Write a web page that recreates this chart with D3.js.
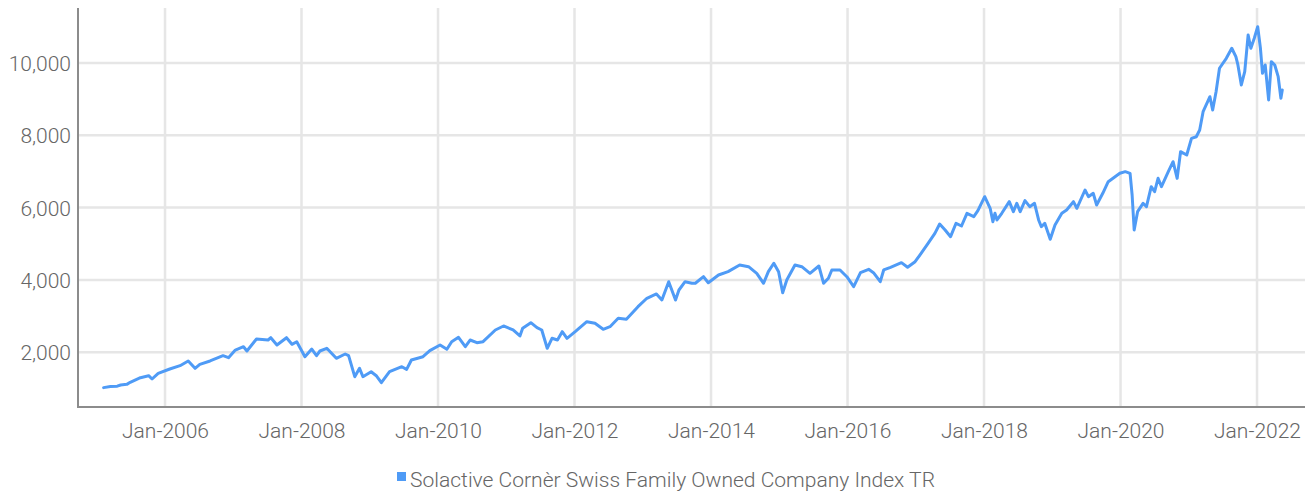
<!DOCTYPE html>
<html>
<head>
<meta charset="utf-8">
<script src="https://cdn.jsdelivr.net/npm/d3@7"></script>
<style>
  html, body { margin: 0; padding: 0; background: #ffffff; }
  svg { display: block; }
  text { font-family: "Roboto", "Noto Sans", sans-serif; font-weight: 300; fill: #666666; }
</style>
</head>
<body>
<svg id="chart" width="1306" height="493"></svg>
<script>
// ---- data (decimal year, index level) ----
const seriesName = "Solactive Cornèr Swiss Family Owned Company Index TR";
const years = [
  2005.10, 2005.20, 2005.30, 2005.35, 2005.44, 2005.49, 2005.64, 2005.76, 2005.81, 2005.90,
  2006.07, 2006.22, 2006.34, 2006.44, 2006.51, 2006.66, 2006.85, 2006.93,
  2007.03, 2007.15, 2007.20, 2007.34, 2007.51, 2007.55, 2007.64, 2007.78, 2007.86, 2007.93,
  2008.05, 2008.15, 2008.22, 2008.27, 2008.37, 2008.51, 2008.64, 2008.69, 2008.78, 2008.85, 2008.90,
  2009.02, 2009.10, 2009.17, 2009.29, 2009.47, 2009.54, 2009.61, 2009.78, 2009.88,
  2010.03, 2010.13, 2010.20, 2010.30, 2010.40, 2010.47, 2010.57, 2010.66, 2010.84, 2010.96,
  2011.10, 2011.20, 2011.24, 2011.36, 2011.45, 2011.52, 2011.60, 2011.67, 2011.75, 2011.82, 2011.89,
  2012.01, 2012.18, 2012.30, 2012.42, 2012.52, 2012.64, 2012.76, 2012.93,
  2013.06, 2013.20, 2013.28, 2013.38, 2013.48, 2013.53, 2013.62, 2013.72, 2013.77, 2013.89, 2013.96,
  2014.11, 2014.25, 2014.42, 2014.55, 2014.67, 2014.77, 2014.84, 2014.92, 2014.99,
  2015.05, 2015.11, 2015.23, 2015.33, 2015.45, 2015.58, 2015.65, 2015.72, 2015.77, 2015.89,
  2015.99, 2016.09, 2016.19, 2016.31, 2016.38, 2016.48, 2016.53, 2016.63, 2016.79, 2016.88, 2016.99,
  2017.06, 2017.18, 2017.28, 2017.35, 2017.43, 2017.51, 2017.59, 2017.67, 2017.75, 2017.85, 2017.91,
  2018.01, 2018.09, 2018.13, 2018.16, 2018.19, 2018.26, 2018.37, 2018.43, 2018.48, 2018.53, 2018.60, 2018.67, 2018.74, 2018.80, 2018.84, 2018.89, 2018.97,
  2019.04, 2019.14, 2019.21, 2019.31, 2019.36, 2019.48, 2019.53, 2019.60, 2019.65, 2019.74, 2019.82, 2019.92, 2019.99,
  2020.07, 2020.14, 2020.17, 2020.20, 2020.25, 2020.33, 2020.38, 2020.45, 2020.50, 2020.55, 2020.60, 2020.70, 2020.77, 2020.83, 2020.88, 2020.97,
  2021.04, 2021.11, 2021.16, 2021.21, 2021.31, 2021.35, 2021.40, 2021.45, 2021.55, 2021.63, 2021.69, 2021.72, 2021.77, 2021.82, 2021.87, 2021.91, 2021.96,
  2022.01, 2022.05, 2022.08, 2022.12, 2022.17, 2022.21, 2022.26, 2022.31, 2022.35, 2022.37
];
const values = [
  1020, 1050, 1060, 1093, 1110, 1167, 1295, 1350, 1259, 1416,
  1535, 1627, 1757, 1554, 1665, 1757, 1903, 1848,
  2060, 2152, 2033, 2365, 2337, 2401, 2199, 2401, 2218, 2290,
  1875, 2088, 1903, 2033, 2108, 1831, 1950, 1903, 1322, 1554, 1322,
  1460, 1341, 1157, 1460, 1599, 1526, 1784, 1875, 2042,
  2199, 2080, 2290, 2411, 2152, 2337, 2263, 2290, 2614, 2725,
  2614, 2448, 2661, 2816, 2678, 2614, 2108, 2384, 2337, 2567, 2384,
  2567, 2843, 2799, 2633, 2705, 2938, 2910, 3258,
  3491, 3610, 3444, 3950, 3444, 3720, 3950, 3906, 3906, 4088, 3922,
  4135, 4227, 4412, 4365, 4182, 3906, 4227, 4459, 4227,
  3645, 3997, 4412, 4365, 4182, 4384, 3906, 4044, 4274, 4274,
  4088, 3811, 4200, 4293, 4200, 3950, 4274, 4348, 4476, 4348, 4503,
  4688, 5012, 5288, 5546, 5380, 5195, 5565, 5491, 5842, 5748, 5914,
  6301, 5980, 5610, 5842, 5657, 5842, 6163, 5887, 6118, 5887, 6191, 6025, 6118, 5657, 5471, 5565, 5123,
  5518, 5842, 5933, 6163, 5980, 6486, 6301, 6395, 6072, 6395, 6716, 6854, 6948,
  6993, 6948, 6348, 5380, 5887, 6118, 6025, 6578, 6440, 6810, 6578, 6993, 7269, 6810, 7546, 7454,
  7916, 7960, 8146, 8652, 9067, 8699, 9205, 9853, 10129, 10406, 10175, 9944, 9391, 9759, 10774, 10406, 10682,
  11003, 10406, 9714, 9944, 8976, 10036, 9944, 9620, 9022, 9253
];
const yTickValues = [2000, 4000, 6000, 8000, 10000];
const xTickYears = [2006, 2008, 2010, 2012, 2014, 2016, 2018, 2020, 2022];
const xTickLabels = ["Jan-2006", "Jan-2008", "Jan-2010", "Jan-2012", "Jan-2014", "Jan-2016", "Jan-2018", "Jan-2020", "Jan-2022"];
const yDomain = [484, 11520];
const xDomain = [2004.725, 2022.703];

// ---- layout ----
const plot = { left: 78, right: 1305, top: 8, bottom: 407 };
const lineColor = "#4f9bf6";
const gridColor = "#e6e6e6";
const axisColor = "#8c8c8c";

const svg = d3.select("#chart");
const x = d3.scaleLinear().domain(xDomain).range([plot.left, plot.right]);
const y = d3.scaleLinear().domain(yDomain).range([plot.bottom, plot.top]);

// grid
const grid = svg.append("g");
grid.selectAll("line.h").data(yTickValues).join("line")
  .attr("x1", plot.left).attr("x2", plot.right)
  .attr("y1", d => y(d)).attr("y2", d => y(d))
  .attr("stroke", gridColor).attr("stroke-width", 2.5);
grid.selectAll("line.v").data(xTickYears).join("line")
  .attr("x1", d => x(d)).attr("x2", d => x(d))
  .attr("y1", plot.top).attr("y2", plot.bottom)
  .attr("stroke", gridColor).attr("stroke-width", 2.5);

// y axis
const yAxis = d3.axisLeft(y).tickValues(yTickValues).tickSize(0).tickPadding(7)
  .tickFormat(d3.format(","));
const gy = svg.append("g").attr("transform", `translate(${plot.left},0)`).call(yAxis);
gy.select(".domain").remove();
gy.selectAll("text").style("font-size", "21px").style("font-family", "Roboto").style("font-weight", 300).attr("fill", "#666").attr("dy", "0.36em");

// x axis
const xAxis = d3.axisBottom(x).tickValues(xTickYears).tickSize(0).tickPadding(16)
  .tickFormat((d, i) => xTickLabels[i]);
const gx = svg.append("g").attr("transform", `translate(0,${plot.bottom})`).call(xAxis);
gx.select(".domain").remove();
gx.selectAll("text").style("font-size", "21px").style("font-family", "Roboto").style("font-weight", 300).attr("fill", "#666");

// axis lines
svg.append("line").attr("x1", plot.left).attr("x2", plot.left).attr("y1", plot.top).attr("y2", plot.bottom + 1)
  .attr("stroke", axisColor).attr("stroke-width", 2);
svg.append("line").attr("x1", plot.left).attr("x2", plot.right).attr("y1", plot.bottom).attr("y2", plot.bottom)
  .attr("stroke", axisColor).attr("stroke-width", 2);

// line
const pts = years.map((t, i) => [t, values[i]]);
svg.append("path").datum(pts)
  .attr("fill", "none").attr("stroke", lineColor).attr("stroke-width", 3)
  .attr("stroke-linejoin", "round").attr("stroke-linecap", "round")
  .attr("d", d3.line().x(d => x(d[0])).y(d => y(d[1])));

// legend
const lg = svg.append("g");
lg.append("rect").attr("x", 397).attr("y", 472).attr("width", 9).attr("height", 9).attr("fill", lineColor);
lg.append("text").attr("x", 410).attr("y", 487).text(seriesName)
  .style("font-size", "21px").attr("textLength", 525).attr("lengthAdjust", "spacingAndGlyphs");
</script>
</body>
</html>
